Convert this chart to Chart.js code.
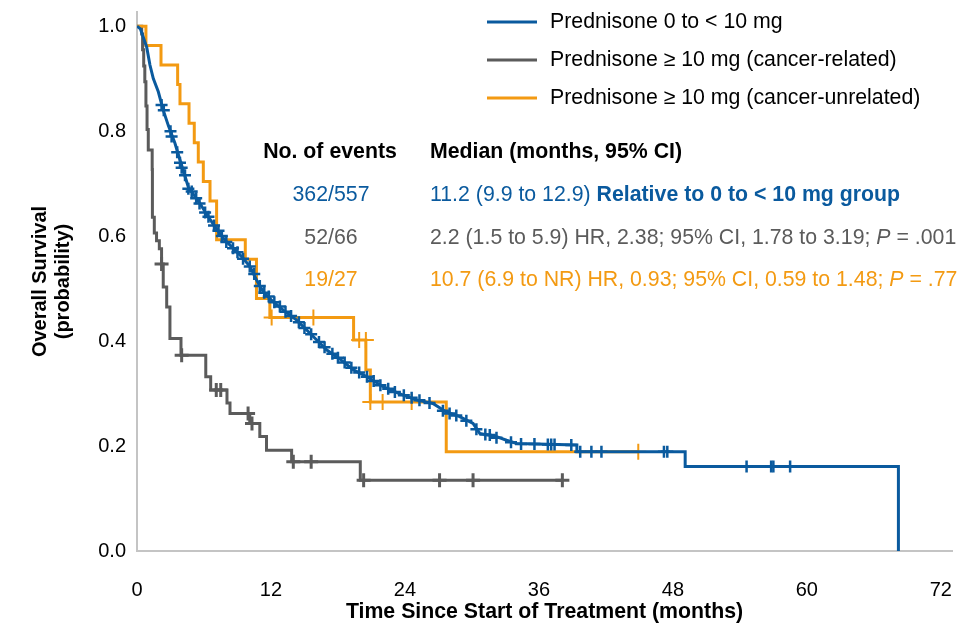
<!DOCTYPE html>
<html>
<head>
<meta charset="utf-8">
<script src="https://cdn.jsdelivr.net/npm/chart.js@4.4.1/dist/chart.umd.min.js"></script>
<style>
  html, body { margin: 0; padding: 0; background: #fff; }
  #wrap { position: relative; width: 977px; height: 626px; }
</style>
</head>
<body>
<div id="wrap"><canvas id="km"></canvas></div>
<script>
// ---- data ----
const xTicks = [0, 12, 24, 36, 48, 60, 72];
const yTicks = [0, 0.2, 0.4, 0.6, 0.8, 1.0];

const seriesNames = [
  "Prednisone 0 to < 10 mg",
  "Prednisone \u2265 10 mg (cancer-related)",
  "Prednisone \u2265 10 mg (cancer-unrelated)"
];

// Prednisone 0 to < 10 mg
const blueT = [0, 0.3, 0.87, 1.16, 1.46, 1.91, 2.35, 2.8, 3.4, 3.85, 4.59, 5.64, 6.38, 6.98, 7.88, 8.62, 9.37, 10.12, 10.72, 11.31, 12.2, 13.1, 14.3, 15.2, 16.1, 17.0, 18.1, 19.4, 20.6, 22.05, 23.5, 25.0, 26.5, 27.7, 28.9, 30.1, 30.7, 32.2, 33.1, 34.0, 39.4, 39.4, 49.1, 49.1, 68.2, 68.2];
const blueS = [1.0, 0.995, 0.96, 0.926, 0.9, 0.875, 0.84, 0.811, 0.777, 0.745, 0.694, 0.662, 0.637, 0.618, 0.592, 0.577, 0.561, 0.542, 0.516, 0.494, 0.475, 0.459, 0.44, 0.421, 0.402, 0.383, 0.367, 0.345, 0.332, 0.313, 0.30, 0.288, 0.281, 0.265, 0.256, 0.243, 0.224, 0.218, 0.211, 0.205, 0.202, 0.189, 0.189, 0.161, 0.161, 0];
const blueCensT = [2.2, 2.4, 3.0, 3.1, 3.6, 3.85, 4.0, 4.3, 4.6, 4.9, 5.3, 5.6, 6.1, 6.4, 6.9, 7.3, 7.6, 8.0, 8.6, 9.0, 9.5, 10.1, 10.5, 11.0, 11.4, 11.8, 12.3, 12.8, 13.3, 13.8, 14.5, 15.0, 15.6, 16.3, 16.8, 17.5, 18.0, 18.6, 19.2, 19.9, 20.6, 21.2, 21.8, 22.5, 23.1, 23.9, 24.6, 25.3, 26.2, 27.4, 28.0, 28.6, 29.5, 30.4, 31.2, 31.6, 32.2, 33.5, 34.4, 35.6, 36.8, 37.1, 37.4, 38.9, 39.7, 40.7, 41.6, 47.2, 47.5, 54.6, 56.8, 57.0, 58.5];
const blueCensS = [0.85, 0.84, 0.80, 0.79, 0.76, 0.74, 0.73, 0.716, 0.69, 0.685, 0.672, 0.662, 0.645, 0.637, 0.62, 0.61, 0.60, 0.589, 0.577, 0.569, 0.557, 0.542, 0.528, 0.505, 0.492, 0.485, 0.474, 0.466, 0.456, 0.448, 0.436, 0.425, 0.413, 0.398, 0.388, 0.376, 0.368, 0.359, 0.349, 0.34, 0.332, 0.324, 0.316, 0.309, 0.303, 0.297, 0.292, 0.287, 0.282, 0.267, 0.262, 0.258, 0.248, 0.232, 0.222, 0.221, 0.216, 0.207, 0.204, 0.204, 0.203, 0.203, 0.203, 0.202, 0.189, 0.189, 0.189, 0.189, 0.189, 0.161, 0.161, 0.161, 0.161];

// Prednisone >= 10 mg (cancer-related)
const grayT = [0, 0.42, 0.5, 0.6, 0.7, 0.8, 0.9, 1.01, 1.36, 1.38, 1.55, 1.75, 2.0, 2.2, 2.35, 2.66, 2.95, 3.94, 6.16, 6.6, 8.06, 8.33, 10.1, 11.0, 11.6, 13.85, 20.0, 38.1];
const grayS = [1.0, 0.985, 0.955, 0.924, 0.894, 0.848, 0.803, 0.764, 0.727, 0.636, 0.606, 0.591, 0.576, 0.547, 0.503, 0.465, 0.405, 0.373, 0.332, 0.307, 0.282, 0.262, 0.243, 0.218, 0.192, 0.170, 0.135, 0.135];
const grayCensT = [2.2, 4.0, 7.1, 7.5, 9.95, 10.3, 14.0, 15.6, 20.3, 27.1, 30.1, 38.1];
const grayCensS = [0.547, 0.373, 0.307, 0.307, 0.262, 0.243, 0.170, 0.170, 0.135, 0.135, 0.135, 0.135];

// Prednisone >= 10 mg (cancer-unrelated)
const orangeT = [0, 0.8, 2.15, 3.64, 3.85, 4.66, 5.13, 5.49, 5.94, 6.54, 7.13, 9.7, 10.7, 11.9, 19.4, 20.5, 20.9, 27.7, 44.9];
const orangeS = [1.0, 0.963, 0.926, 0.889, 0.852, 0.815, 0.778, 0.741, 0.704, 0.667, 0.593, 0.556, 0.481, 0.445, 0.402, 0.345, 0.284, 0.189, 0.189];
const orangeCensT = [12.06, 15.8, 19.9, 20.5, 20.9, 22.0, 24.6, 44.9];
const orangeCensS = [0.445, 0.445, 0.402, 0.402, 0.284, 0.284, 0.284, 0.189];

// table
const eventsText = ["362/557", "52/66", "19/27"];
const medianText = ["11.2 (9.9 to 12.9)", "2.2 (1.5 to 5.9)", "10.7 (6.9 to NR)"];
const hrText = ["", "HR, 2.38; 95% CI, 1.78 to 3.19; ", "HR, 0.93; 95% CI, 0.59 to 1.48; "];
const pText = ["", " = .001", " = .77"];
const refText = "Relative to 0 to < 10 mg group";

// ---- styles ----
const colors = ["#0a5a9e", "#5b5b5b", "#f39a12"];
const FONT = "'Liberation Sans', Arial, Helvetica, sans-serif";
const TXT = 21.3;

function pts(t, s) {
  return t.map((v, i) => ({ x: v, y: s[i] }));
}

function curve(t, s, color, stepped) {
  return {
    data: pts(t, s),
    showLine: true,
    borderColor: color,
    borderWidth: 3,
    pointRadius: 0,
    stepped: stepped,
    tension: 0,
    fill: false
  };
}

function censor(t, s, color, r, w) {
  return {
    data: pts(t, s),
    showLine: false,
    pointStyle: "cross",
    pointRadius: r,
    pointHoverRadius: r,
    borderColor: color,
    backgroundColor: color,
    pointBorderWidth: w,
    borderWidth: w
  };
}

// legend + events table drawn on top of the plot
const annotations = {
  id: "kmText",
  afterDraw(chart) {
    const ctx = chart.ctx;
    ctx.save();
    ctx.textBaseline = "middle";

    // legend
    const legY = [22, 60, 98];
    seriesNames.forEach((name, i) => {
      ctx.strokeStyle = colors[i];
      ctx.lineWidth = 3;
      ctx.beginPath();
      ctx.moveTo(487, legY[i]);
      ctx.lineTo(537, legY[i]);
      ctx.stroke();
      ctx.fillStyle = "#000";
      ctx.font = TXT + "px " + FONT;
      ctx.textAlign = "left";
      ctx.fillText(name, 550, legY[i]);
    });

    // header
    ctx.fillStyle = "#000";
    ctx.font = "bold " + TXT + "px " + FONT;
    ctx.textAlign = "center";
    ctx.fillText("No. of events", 330, 152);
    ctx.textAlign = "left";
    ctx.fillText("Median (months, 95% CI)", 430, 152);

    // rows
    const rowY = [195, 238, 280];
    eventsText.forEach((ev, i) => {
      ctx.fillStyle = colors[i];
      ctx.font = TXT + "px " + FONT;
      ctx.textAlign = "center";
      ctx.fillText(ev, 331, rowY[i]);
      ctx.textAlign = "left";
      let x = 430;
      const med = medianText[i] + " ";
      ctx.fillText(med, x, rowY[i]);
      x += ctx.measureText(med).width;
      if (i === 0) {
        ctx.font = "bold " + TXT + "px " + FONT;
        ctx.fillText(refText, x, rowY[i]);
      } else {
        ctx.fillText(hrText[i], x, rowY[i]);
        x += ctx.measureText(hrText[i]).width;
        ctx.font = "italic " + TXT + "px " + FONT;
        ctx.fillText("P", x, rowY[i]);
        x += ctx.measureText("P").width;
        ctx.font = TXT + "px " + FONT;
        ctx.fillText(pText[i], x, rowY[i]);
      }
    });
    ctx.restore();
  }
};

new Chart(document.getElementById("km"), {
  type: "scatter",
  data: {
    datasets: [
      censor(blueCensT, blueCensS, colors[0], 6, 2.5),
      curve(blueT, blueS, colors[0], false),
      censor(orangeCensT, orangeCensS, colors[2], 8, 2),
      curve(orangeT, orangeS, colors[2], true),
      censor(grayCensT, grayCensS, colors[1], 7, 3),
      curve(grayT, grayS, colors[1], true)
    ]
  },
  options: {
    responsive: true,
    maintainAspectRatio: false,
    animation: false,
    events: [],
    layout: { padding: { top: 12, right: 25, left: 0, bottom: 0 } },
    plugins: {
      legend: { display: false },
      tooltip: { enabled: false }
    },
    scales: {
      x: {
        type: "linear",
        min: 0,
        max: 73,
        afterBuildTicks: (axis) => { axis.ticks = xTicks.map((v) => ({ value: v })); },
        afterFit: (axis) => {
          axis.height = 75;
          axis.paddingLeft = 0;
          axis.paddingRight = 0;
        },
        grid: { display: false, drawTicks: false },
        border: { display: true, color: "#c4c4c4", width: 2 },
        ticks: { color: "#000", padding: 27, font: { family: FONT, size: 20 } },
        title: {
          display: true,
          text: "Time Since Start of Treatment (months)",
          color: "#000",
          font: { family: FONT, size: TXT, weight: "bold" },
          padding: { top: 0, bottom: 1 }
        }
      },
      y: {
        type: "linear",
        min: 0,
        max: 1.027,
        afterBuildTicks: (axis) => { axis.ticks = yTicks.map((v) => ({ value: v })); },
        afterFit: (axis) => {
          axis.width = 137;
          axis.paddingTop = 0;
          axis.paddingBottom = 0;
        },
        grid: { display: false, drawTicks: false },
        border: { display: true, color: "#c4c4c4", width: 2 },
        ticks: {
          color: "#000",
          padding: 11,
          font: { family: FONT, size: 20 },
          callback: (v) => v.toFixed(1)
        },
        title: {
          display: true,
          text: ["Overall Survival", "(probability)"],
          color: "#000",
          font: { family: FONT, size: 20, weight: "bold", lineHeight: 1.15 },
          padding: { top: 29, bottom: 0 }
        }
      }
    }
  },
  plugins: [annotations]
});
</script>
</body>
</html>
